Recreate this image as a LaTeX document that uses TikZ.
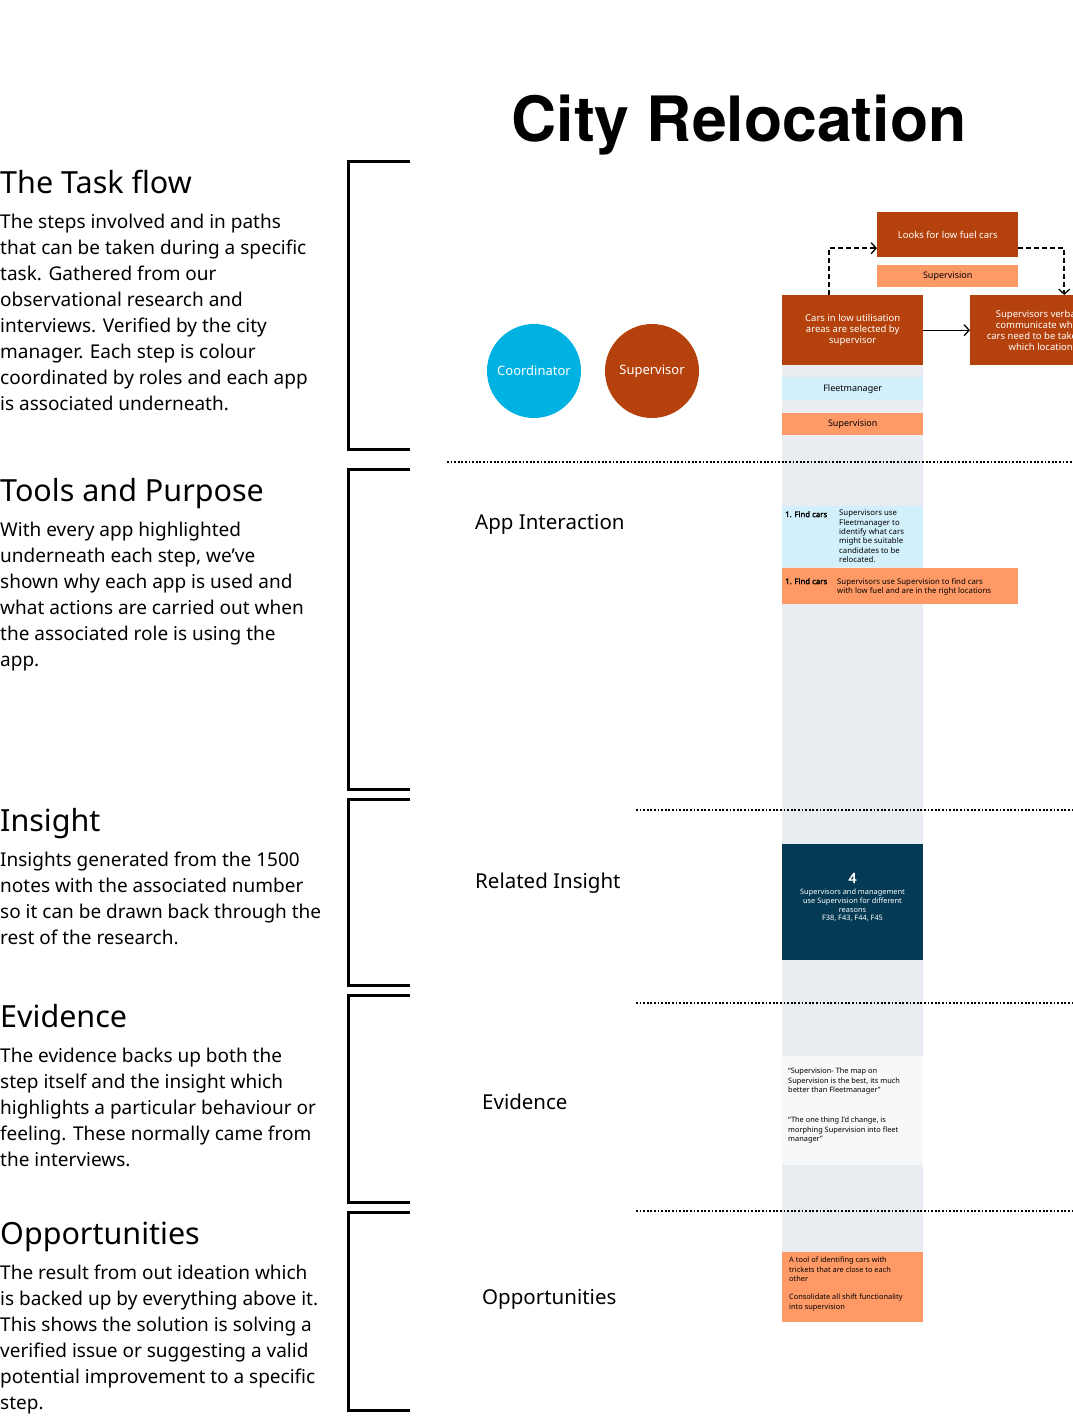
\documentclass[tikz,border=0pt]{standalone}
\usepackage{fontspec}
\setmainfont{Noto Sans}
\newfontfamily\titlefont{TeX Gyre Heros}
\newfontfamily\boldsmall{Noto Sans}[FakeBold=2.5]
\usetikzlibrary{arrows.meta}
\definecolor{darkor}{HTML}{B5420C}
\definecolor{lightor}{HTML}{FF9A67}
\definecolor{colgrey}{HTML}{E9ECF0}
\definecolor{lightblue}{HTML}{D2F0FC}
\definecolor{cyanrole}{HTML}{00B2E2}
\definecolor{tealbox}{HTML}{053A55}
\definecolor{evbox}{HTML}{F7F8FA}
\begin{document}
\begin{tikzpicture}[x=1pt,y=-1pt,
  heading/.style={anchor=base west,inner sep=0pt,font=\fontsize{30.5}{36}\selectfont},
  para/.style={anchor=north west,inner sep=0pt,align=left,font=\fontsize{19}{26}\selectfont},
  sectlabel/.style={anchor=base west,inner sep=0pt,font=\fontsize{20.5}{24}\selectfont},
  bracketline/.style={line width=3pt},
  sepline/.style={line width=1.7pt,dash pattern=on 1.7pt off 1.9pt},
  rolecircle/.style={circle,minimum size=94pt,inner sep=0pt,text=white,font=\fontsize{13}{15}\selectfont},
  stepbox/.style={anchor=north west,inner sep=0pt,minimum width=141pt,align=center,font=\fontsize{9.5}{11}\selectfont},
  smalltxt/.style={anchor=north west,inner sep=0pt,align=left,font=\fontsize{7.8}{9.3}\selectfont},
  flowarrow/.style={line width=1.3pt,-{Straight Barb[length=5pt,width=11pt,line width=1.3pt]}},
  dasharrow/.style={line width=1.6pt,dash pattern=on 5pt off 3pt,-{Straight Barb[length=5pt,width=11pt,line width=1.3pt]}}
]
\useasboundingbox (0,0) rectangle (1073,1417);
\clip (0,0) rectangle (1073,1417);

% title
\node[anchor=base,inner sep=0pt,font=\titlefont\bfseries\fontsize{62.5}{70}\selectfont] (title) at (739,141) {City Relocation};

% left text
\node[heading] (h1) at (0,193) {The Task flow};
\node[para] (p1) at (0,214) {The steps involved and in paths\\that can be taken during a specific\\task. Gathered from our\\observational research and\\interviews. Verified by the city\\manager. Each step is colour\\coordinated by roles and each app\\is associated underneath.};
\node[heading] (h2) at (0,501) {Tools and Purpose};
\node[para] (p2) at (0,522) {With every app highlighted\\underneath each step, we’ve\\shown why each app is used and\\what actions are carried out when\\the associated role is using the\\app.};
\node[heading] (h3) at (0,831) {Insight};
\node[para] (p3) at (0,852) {Insights generated from the 1500\\notes with the associated number\\so it can be drawn back through the\\rest of the research.};
\node[heading] (h4) at (0,1027) {Evidence};
\node[para] (p4) at (0,1048) {The evidence backs up both the\\step itself and the insight which\\highlights a particular behaviour or\\feeling. These normally came from\\the interviews.};
\node[heading] (h5) at (0,1244) {Opportunities};
\node[para] (p5) at (0,1265) {The result from out ideation which\\is backed up by everything above it.\\This shows the solution is solving a\\verified issue or suggesting a valid\\potential improvement to a specific\\step.};

% brackets
\draw[bracketline] (410,161) -- (348,161) -- (348,449) -- (410,449);
\draw[bracketline] (410,469) -- (348,469) -- (348,789) -- (410,789);
\draw[bracketline] (410,799) -- (348,799) -- (348,985) -- (410,985);
\draw[bracketline] (410,995) -- (348,995) -- (348,1202) -- (410,1202);
\draw[bracketline] (410,1212) -- (348,1212) -- (348,1410) -- (410,1410);

% grey column
\fill[colgrey] (782,365) rectangle (923,1322);

% separators
\draw[sepline] (447,462) -- (1073,462);
\draw[sepline] (636,810) -- (1073,810);
\draw[sepline] (636,1003) -- (1073,1003);
\draw[sepline] (636,1211) -- (1073,1211);

% section labels
\node[sectlabel] (lab1) at (475,529) {App Interaction};
\node[sectlabel] (lab2) at (475,888) {Related Insight};
\node[sectlabel] (lab3) at (482,1109) {Evidence};
\node[sectlabel] (lab4) at (482,1304) {Opportunities};

% role circles
\node[rolecircle,fill=cyanrole] (coord) at (534,371) {Coordinator};
\node[rolecircle,fill=darkor] (superv) at (652,371) {Supervisor};

% flow boxes
\node[stepbox,fill=darkor,text=white,minimum height=45pt] (looks) at (877,212) {Looks for low fuel cars};
\node[stepbox,fill=lightor,text=black,minimum height=22pt,font=\fontsize{9}{11}\selectfont] (looksapp) at (877,265) {Supervision};
\node[stepbox,fill=darkor,text=white,minimum height=70pt] (cars) at (782,295) {Cars in low utilisation\\areas are selected by\\supervisor};
\node[stepbox,fill=darkor,text=white,minimum height=70pt] (verbal) at (970,295) {Supervisors verbally\\communicate which\\cars need to be taken to\\which location};
\node[stepbox,fill=lightblue,text=black,minimum height=23pt,font=\fontsize{9}{11}\selectfont] (fleet) at (782,377) {Fleetmanager};
\node[stepbox,fill=lightor,text=black,minimum height=22pt,font=\fontsize{9}{11}\selectfont] (carsapp) at (782,413) {Supervision};

% connectors
\draw[flowarrow] (cars.east) -- (verbal.west);
\draw[dasharrow] ([xshift=-23.5pt]cars.north) |- ([yshift=-13.5pt]looks.west);
\draw[dasharrow] ([yshift=-13.5pt]looks.east) -| ([xshift=23.5pt]verbal.north);

% app interaction
\fill[lightblue] (782,506) rectangle (923,567);
\node[smalltxt,font=\boldsmall\fontsize{7.8}{9.3}\selectfont] (ai1a) at (785,511) {1. Find cars};
\node[smalltxt] (ai1b) at (839,510) {Supervisors use\\Fleetmanager to\\identify what cars\\might be suitable\\candidates to be\\relocated.};
\fill[lightor] (782,568) rectangle (1018,604);
\node[smalltxt,font=\boldsmall\fontsize{7.8}{9.3}\selectfont] (ai2a) at (785,578) {1. Find cars};
\node[smalltxt] (ai2b) at (837,578) {Supervisors use Supervision to find cars\\with low fuel and are in the right locations};

% insight
\fill[tealbox] (782,844) rectangle (923,960);
\node[anchor=base,inner sep=0pt,text=white,font=\boldsmall\fontsize{14}{16}\selectfont] (insnum) at (852.5,883) {4};
\node[anchor=north,inner sep=0pt,align=center,text=white,font=\fontsize{7.4}{8.6}\selectfont] (instxt) at (852.5,889) {Supervisors and management\\use Supervision for different\\reasons\\F38, F43, F44, F45};

% evidence
\fill[evbox] (782,1056) rectangle (923,1165);
\node[smalltxt,font=\fontsize{7.4}{9.3}\selectfont] (ev1) at (788,1068) {“Supervision- The map on\\Supervision is the best, its much\\better than Fleetmanager”};
\node[smalltxt,font=\fontsize{7.4}{9.3}\selectfont] (ev2) at (788,1117) {“The one thing I'd change, is\\morphing Supervision into fleet\\manager”};

% opportunities
\fill[lightor] (782,1252) rectangle (923,1322);
\node[smalltxt,font=\fontsize{7.4}{9.3}\selectfont] (op1) at (789,1257) {A tool of identifing cars with\\trickets that are close to each\\other};
\node[smalltxt,font=\fontsize{7.4}{9.3}\selectfont] (op2) at (789,1294) {Consolidate all shift functionality\\into supervision};
\end{tikzpicture}
\end{document}
